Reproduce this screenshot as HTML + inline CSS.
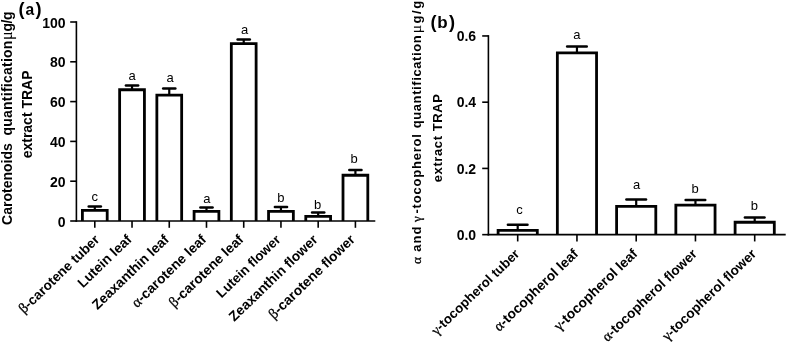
<!DOCTYPE html><html><head><meta charset="utf-8"><title>chart</title><style>html,body{margin:0;padding:0;background:#fff}svg{display:block;will-change:transform;opacity:0.999}text{font-family:"Liberation Sans",Arial,sans-serif;fill:#000}.b{font-weight:bold}.g{font-family:"Liberation Serif","DejaVu Serif",serif;font-weight:normal;font-size:1.06em;stroke:#000;stroke-width:0.3px}</style></head><body>
<svg width="787" height="346" viewBox="0 0 787 346">
<rect width="787" height="346" fill="#fff"/>
<g stroke="#000" stroke-width="1.6" fill="none">
<line x1="76.4" y1="21.2" x2="76.4" y2="221.8"/>
<line x1="75.60000000000001" y1="221.0" x2="375.3" y2="221.0"/>
<line x1="70.2" y1="221.00" x2="76.4" y2="221.00"/>
<line x1="70.2" y1="181.20" x2="76.4" y2="181.20"/>
<line x1="70.2" y1="141.40" x2="76.4" y2="141.40"/>
<line x1="70.2" y1="101.60" x2="76.4" y2="101.60"/>
<line x1="70.2" y1="61.80" x2="76.4" y2="61.80"/>
<line x1="70.2" y1="22.00" x2="76.4" y2="22.00"/>
<line x1="94.8" y1="221.0" x2="94.8" y2="227.8"/>
<line x1="132.03" y1="221.0" x2="132.03" y2="227.8"/>
<line x1="169.26" y1="221.0" x2="169.26" y2="227.8"/>
<line x1="206.49" y1="221.0" x2="206.49" y2="227.8"/>
<line x1="243.71999999999997" y1="221.0" x2="243.71999999999997" y2="227.8"/>
<line x1="280.95" y1="221.0" x2="280.95" y2="227.8"/>
<line x1="318.18" y1="221.0" x2="318.18" y2="227.8"/>
<line x1="355.40999999999997" y1="221.0" x2="355.40999999999997" y2="227.8"/>
</g>
<text class="b" x="65.5" y="226.60" font-size="14" text-anchor="end">0</text>
<text class="b" x="65.5" y="186.80" font-size="14" text-anchor="end">20</text>
<text class="b" x="65.5" y="147.00" font-size="14" text-anchor="end">40</text>
<text class="b" x="65.5" y="107.20" font-size="14" text-anchor="end">60</text>
<text class="b" x="65.5" y="67.40" font-size="14" text-anchor="end">80</text>
<text class="b" x="65.5" y="27.60" font-size="14" text-anchor="end">100</text>
<g stroke="#000" fill="none">
<path d="M82.40 221.0 V210.45 H107.20 V221.0" stroke-width="2.8" stroke-linejoin="miter"/>
<line x1="94.8" y1="210.45" x2="94.8" y2="206.47" stroke-width="2.2"/>
<line x1="88.70" y1="206.47" x2="100.90" y2="206.47" stroke-width="2.5" stroke-linecap="round"/>
</g>
<text x="94.80" y="200.70" font-size="13" text-anchor="middle">c</text>
<g stroke="#000" fill="none">
<path d="M119.63 221.0 V89.75 H144.43 V221.0" stroke-width="2.8" stroke-linejoin="miter"/>
<line x1="132.03" y1="89.75" x2="132.03" y2="85.40" stroke-width="2.2"/>
<line x1="125.93" y1="85.40" x2="138.13" y2="85.40" stroke-width="2.5" stroke-linecap="round"/>
</g>
<text x="132.03" y="80.20" font-size="13" text-anchor="middle">a</text>
<g stroke="#000" fill="none">
<path d="M156.86 221.0 V95.15 H181.66 V221.0" stroke-width="2.8" stroke-linejoin="miter"/>
<line x1="169.26" y1="95.15" x2="169.26" y2="88.55" stroke-width="2.2"/>
<line x1="163.16" y1="88.55" x2="175.36" y2="88.55" stroke-width="2.5" stroke-linecap="round"/>
</g>
<text x="170.16" y="81.70" font-size="13" text-anchor="middle">a</text>
<g stroke="#000" fill="none">
<path d="M194.09 221.0 V211.45 H218.89 V221.0" stroke-width="2.8" stroke-linejoin="miter"/>
<line x1="206.49" y1="211.45" x2="206.49" y2="207.47" stroke-width="2.2"/>
<line x1="200.39" y1="207.47" x2="212.59" y2="207.47" stroke-width="2.5" stroke-linecap="round"/>
</g>
<text x="206.79" y="202.60" font-size="13" text-anchor="middle">a</text>
<g stroke="#000" fill="none">
<path d="M231.32 221.0 V43.69 H256.12 V221.0" stroke-width="2.8" stroke-linejoin="miter"/>
<line x1="243.71999999999997" y1="43.69" x2="243.71999999999997" y2="39.60" stroke-width="2.2"/>
<line x1="237.62" y1="39.60" x2="249.82" y2="39.60" stroke-width="2.5" stroke-linecap="round"/>
</g>
<text x="244.62" y="33.70" font-size="13" text-anchor="middle">a</text>
<g stroke="#000" fill="none">
<path d="M268.55 221.0 V211.45 H293.35 V221.0" stroke-width="2.8" stroke-linejoin="miter"/>
<line x1="280.95" y1="211.45" x2="280.95" y2="207.07" stroke-width="2.2"/>
<line x1="274.85" y1="207.07" x2="287.05" y2="207.07" stroke-width="2.5" stroke-linecap="round"/>
</g>
<text x="280.95" y="201.80" font-size="13" text-anchor="middle">b</text>
<g stroke="#000" fill="none">
<path d="M305.78 221.0 V216.42 H330.58 V221.0" stroke-width="2.8" stroke-linejoin="miter"/>
<line x1="318.18" y1="216.42" x2="318.18" y2="212.44" stroke-width="2.2"/>
<line x1="312.08" y1="212.44" x2="324.28" y2="212.44" stroke-width="2.5" stroke-linecap="round"/>
</g>
<text x="317.68" y="208.60" font-size="13" text-anchor="middle">b</text>
<g stroke="#000" fill="none">
<path d="M343.01 221.0 V175.23 H367.81 V221.0" stroke-width="2.8" stroke-linejoin="miter"/>
<line x1="355.40999999999997" y1="175.23" x2="355.40999999999997" y2="170.06" stroke-width="2.2"/>
<line x1="349.31" y1="170.06" x2="361.51" y2="170.06" stroke-width="2.5" stroke-linecap="round"/>
</g>
<text x="354.01" y="162.80" font-size="13" text-anchor="middle">b</text>
<text class="b" font-size="13.55" text-anchor="end" transform="translate(100.30 240.50) rotate(-44)"><tspan class="g">β</tspan>-carotene tuber</text>
<text class="b" font-size="13.8" text-anchor="end" transform="translate(132.53 240.50) rotate(-44)">Lutein leaf</text>
<text class="b" font-size="13.8" text-anchor="end" transform="translate(169.76 240.50) rotate(-44)">Zeaxanthin leaf</text>
<text class="b" font-size="13.8" text-anchor="end" transform="translate(206.99 240.50) rotate(-44)"><tspan class="g">α</tspan>-carotene leaf</text>
<text class="b" font-size="13.8" text-anchor="end" transform="translate(244.22 240.50) rotate(-44)"><tspan class="g">β</tspan>-carotene leaf</text>
<text class="b" font-size="13.4" text-anchor="end" transform="translate(281.45 240.50) rotate(-44)">Lutein flower</text>
<text class="b" font-size="13.8" text-anchor="end" transform="translate(318.68 240.50) rotate(-44)">Zeaxanthin flower</text>
<text class="b" font-size="13.8" text-anchor="end" transform="translate(355.91 240.50) rotate(-44)"><tspan class="g">β</tspan>-carotene flower</text>
<g stroke="#000" stroke-width="1.6" fill="none">
<line x1="488.4" y1="35.150000000000006" x2="488.4" y2="235.45000000000002"/>
<line x1="487.59999999999997" y1="234.65" x2="785.7" y2="234.65"/>
<line x1="482.2" y1="234.65" x2="488.4" y2="234.65"/>
<line x1="482.2" y1="168.42" x2="488.4" y2="168.42"/>
<line x1="482.2" y1="102.18" x2="488.4" y2="102.18"/>
<line x1="482.2" y1="35.95" x2="488.4" y2="35.95"/>
<line x1="517.7" y1="234.65" x2="517.7" y2="241.45000000000002"/>
<line x1="576.95" y1="234.65" x2="576.95" y2="241.45000000000002"/>
<line x1="636.2" y1="234.65" x2="636.2" y2="241.45000000000002"/>
<line x1="695.45" y1="234.65" x2="695.45" y2="241.45000000000002"/>
<line x1="754.7" y1="234.65" x2="754.7" y2="241.45000000000002"/>
</g>
<text class="b" x="476.09999999999997" y="239.85" font-size="14" text-anchor="end">0.0</text>
<text class="b" x="476.09999999999997" y="173.62" font-size="14" text-anchor="end">0.2</text>
<text class="b" x="476.09999999999997" y="107.38" font-size="14" text-anchor="end">0.4</text>
<text class="b" x="476.09999999999997" y="41.15" font-size="14" text-anchor="end">0.6</text>
<g stroke="#000" fill="none">
<path d="M498.10 234.65 V230.40 H537.30 V234.65" stroke-width="2.8" stroke-linejoin="miter"/>
<line x1="517.7" y1="230.40" x2="517.7" y2="224.70" stroke-width="2.2"/>
<line x1="507.90" y1="224.70" x2="527.50" y2="224.70" stroke-width="2.5" stroke-linecap="round"/>
</g>
<text x="519.60" y="214.00" font-size="13" text-anchor="middle">c</text>
<g stroke="#000" fill="none">
<path d="M557.35 234.65 V52.90 H596.55 V234.65" stroke-width="2.8" stroke-linejoin="miter"/>
<line x1="576.95" y1="52.90" x2="576.95" y2="46.50" stroke-width="2.2"/>
<line x1="567.15" y1="46.50" x2="586.75" y2="46.50" stroke-width="2.5" stroke-linecap="round"/>
</g>
<text x="576.95" y="39.20" font-size="13" text-anchor="middle">a</text>
<g stroke="#000" fill="none">
<path d="M616.60 234.65 V206.40 H655.80 V234.65" stroke-width="2.8" stroke-linejoin="miter"/>
<line x1="636.2" y1="206.40" x2="636.2" y2="199.45" stroke-width="2.2"/>
<line x1="626.40" y1="199.45" x2="646.00" y2="199.45" stroke-width="2.5" stroke-linecap="round"/>
</g>
<text x="636.70" y="189.00" font-size="13" text-anchor="middle">a</text>
<g stroke="#000" fill="none">
<path d="M675.85 234.65 V205.20 H715.05 V234.65" stroke-width="2.8" stroke-linejoin="miter"/>
<line x1="695.45" y1="205.20" x2="695.45" y2="200.00" stroke-width="2.2"/>
<line x1="685.65" y1="200.00" x2="705.25" y2="200.00" stroke-width="2.5" stroke-linecap="round"/>
</g>
<text x="695.05" y="192.60" font-size="13" text-anchor="middle">b</text>
<g stroke="#000" fill="none">
<path d="M735.10 234.65 V222.25 H774.30 V234.65" stroke-width="2.8" stroke-linejoin="miter"/>
<line x1="754.7" y1="222.25" x2="754.7" y2="217.50" stroke-width="2.2"/>
<line x1="744.90" y1="217.50" x2="764.50" y2="217.50" stroke-width="2.5" stroke-linecap="round"/>
</g>
<text x="754.30" y="210.40" font-size="13" text-anchor="middle">b</text>
<text class="b" font-size="13.3" text-anchor="end" transform="translate(520.30 254.85) rotate(-44)"><tspan class="g">γ</tspan>-tocopherol tuber</text>
<text class="b" font-size="13.8" text-anchor="end" transform="translate(579.15 254.85) rotate(-44)"><tspan class="g">α</tspan>-tocopherol leaf</text>
<text class="b" font-size="13.8" text-anchor="end" transform="translate(638.40 254.85) rotate(-44)"><tspan class="g">γ</tspan>-tocopherol leaf</text>
<text class="b" font-size="13.55" text-anchor="end" transform="translate(697.85 254.85) rotate(-44)"><tspan class="g">α</tspan>-tocopherol flower</text>
<text class="b" font-size="13.55" text-anchor="end" transform="translate(757.10 254.85) rotate(-44)"><tspan class="g">γ</tspan>-tocopherol flower</text>
<text class="b" y="14.5"><tspan x="18.5" font-size="18.2">(</tspan><tspan x="25.4" font-size="15.6">a</tspan><tspan x="35.6" font-size="18.2">)</tspan></text>
<text class="b" y="27.6"><tspan x="430.4" font-size="18.2">(</tspan><tspan x="437.29999999999995" font-size="17">b</tspan><tspan x="449.0" font-size="18.2">)</tspan></text>
<text class="b" font-size="14" text-anchor="start" transform="translate(11.6 224.9) rotate(-90)">Carotenoids</text>
<text class="b" font-size="14" text-anchor="start" letter-spacing="0.25" transform="translate(11.6 135.6) rotate(-90)">quantification</text>
<text class="b" font-size="14" text-anchor="start" letter-spacing="-0.35" transform="translate(11.6 39.9) rotate(-90)"><tspan class="g" style="font-size:1.15em;stroke-width:0.1px">μ</tspan>g/g</text>
<text class="b" font-size="14" text-anchor="middle" transform="translate(32.3 114.4) rotate(-90)">extract TRAP</text>
<text class="b" font-size="12.5" text-anchor="start" transform="translate(420.5 264.0) rotate(-90)"><tspan class="g">α</tspan></text>
<text class="b" font-size="13" text-anchor="start" letter-spacing="1.0" transform="translate(420.5 251.7) rotate(-90)">and</text>
<text class="b" font-size="12.3" text-anchor="start" transform="translate(420.5 222.0) rotate(-90)"><tspan class="g">γ</tspan></text>
<text class="b" font-size="13" text-anchor="start" letter-spacing="0.8" transform="translate(420.5 213.6) rotate(-90)">-tocopherol</text>
<text class="b" font-size="13" text-anchor="start" letter-spacing="0.6" transform="translate(420.5 128.3) rotate(-90)">quantification</text>
<text class="b" font-size="13" text-anchor="start" letter-spacing="1.5" transform="translate(420.5 33.3) rotate(-90)"><tspan class="g" style="font-size:1.2em;stroke-width:0.1px">μ</tspan>g/g</text>
<text class="b" font-size="13" text-anchor="middle" letter-spacing="0.6" transform="translate(441.5 137.8) rotate(-90)">extract TRAP</text>
</svg></body></html>
